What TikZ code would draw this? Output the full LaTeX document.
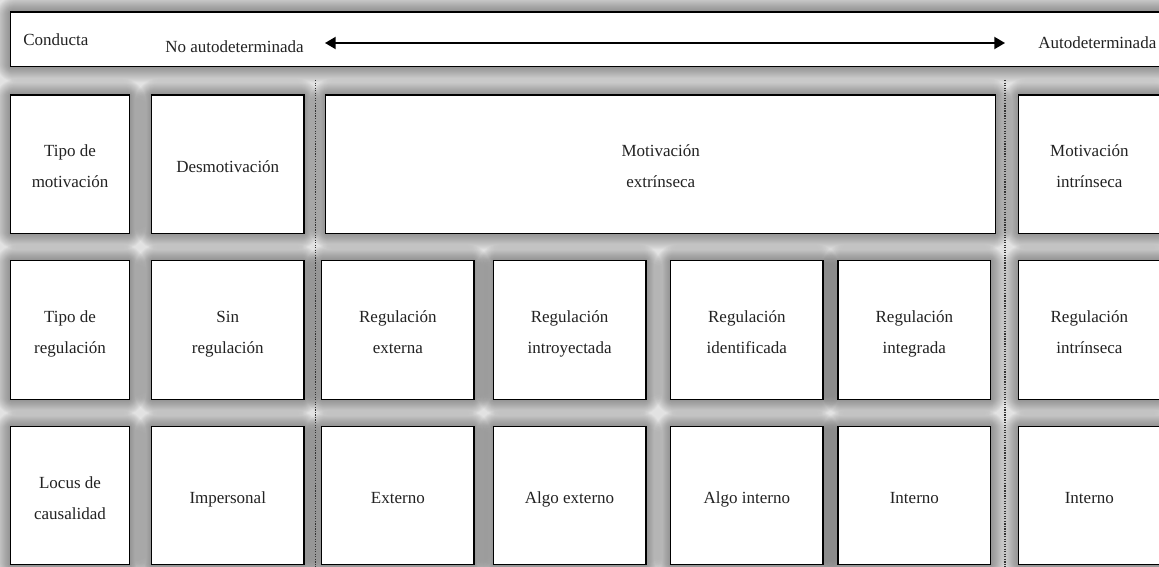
\documentclass[tikz,border=0pt]{standalone}
\usepackage{fontspec}
\setmainfont{Liberation Serif}
\usetikzlibrary{arrows.meta}
\pgfdeclarelayer{bg}
\pgfsetlayers{bg,main}
\definecolor{paper}{HTML}{E2E2E2}
\definecolor{ink}{HTML}{222222}
\tikzset{
  cell/.style={draw=black, line width=1.1pt, fill=white, inner sep=0pt,
    align=center, text=ink, font=\fontsize{12.75}{23.25}\selectfont},
  toptext/.style={inner sep=0pt, text=ink, font=\fontsize{12.75}{15}\selectfont},
  halo/.style={fill=black, opacity=0.022},
  divider/.style={black!80, line width=0.9pt, densely dotted},
  scalearrow/.style={line width=1.4pt,
    {Triangle[length=8pt,width=9pt]}-{Triangle[length=8pt,width=9pt]}}
}
% line strut: keeps every line the same height so texts sit alike
\newcommand\ls{\rule[-1.75pt]{0pt}{16pt}}
% \panel{name}{x1}{y1}{x2}{y2}{text}: white box with a soft dark halo
\newcommand\panel[6]{%
  \begin{pgfonlayer}{bg}
    \foreach \k in {1,...,16}{%
      \fill[halo, rounded corners=1.05*\k pt]
        ({#2-\k},{#3-\k}) rectangle ({#4+\k},{#5+\k});}
  \end{pgfonlayer}
  \pgfmathsetmacro\pw{(#4-#2)*0.75}%
  \pgfmathsetmacro\ph{(#5-#3)*0.75}%
  \node[cell, minimum width=\pw pt, minimum height=\ph pt] (#1)
    at ({(#2+#4)/2},{(#3+#5)/2}) {#6};
}
\begin{document}
\begin{tikzpicture}[x=0.75pt,y=-0.75pt]
  \useasboundingbox (0,0) rectangle (1159,567);
  \begin{pgfonlayer}{bg}
    \fill[paper] (0,0) rectangle (1159,567);
  \end{pgfonlayer}

  % dotted dividers
  \coordinate (d1t) at (315.7,80);  \coordinate (d1b) at (315.7,567);
  \coordinate (d2t) at (1005,80);   \coordinate (d2b) at (1005,567);
  \draw[divider] (d1t) -- (d1b);
  \draw[divider] (d2t) -- (d2b);

  % header strip
  \panel{top}{10.7}{12}{1175}{66.5}{}
  \node[toptext, anchor=west] (cond) at (23,40) {Conducta};
  \node[toptext] (noauto) at (234.5,47) {No autodeterminada};
  \node[toptext, anchor=west] (auto) at (1038,43) {Autodeterminada};
  \coordinate (aL) at (325,43);
  \coordinate (aR) at (1005,43);
  \draw[scalearrow] (aL) -- (aR);

  % row 1
  \panel{tmot}{10.5}{95}{129.5}{233.3}{Tipo de\ls\\motivación\ls}
  \panel{desm}{151.5}{95}{304}{233.3}{Desmotivación\ls}
  \panel{mext}{325.7}{95}{995.7}{233.3}{Motivación\ls\\extrínseca\ls}
  \panel{mint}{1018.7}{95}{1160}{233.3}{Motivación\ls\\intrínseca\ls}

  % row 2
  \panel{treg}{10.5}{260.7}{129.5}{399.3}{Tipo de\ls\\regulación\ls}
  \panel{sreg}{151.5}{260.7}{304}{399.3}{Sin\ls\\regulación\ls}
  \panel{rext}{321.7}{260.7}{474}{399.3}{Regulación\ls\\externa\ls}
  \panel{rint}{493.3}{260.7}{645.8}{399.3}{Regulación\ls\\introyectada\ls}
  \panel{rid}{670.7}{260.7}{823}{399.3}{Regulación\ls\\identificada\ls}
  \panel{rinteg}{838}{260.7}{990.7}{399.3}{Regulación\ls\\integrada\ls}
  \panel{rintr}{1018.7}{260.7}{1160}{399.3}{Regulación\ls\\intrínseca\ls}

  % row 3
  \panel{locus}{10.5}{426.7}{129.5}{564.5}{Locus de\ls\\causalidad\ls}
  \panel{imp}{151.5}{426.7}{304}{564.5}{Impersonal\ls}
  \panel{lext}{321.7}{426.7}{474}{564.5}{Externo\ls}
  \panel{lalgx}{493.3}{426.7}{645.8}{564.5}{Algo externo\ls}
  \panel{lalgi}{670.7}{426.7}{823}{564.5}{Algo interno\ls}
  \panel{lint}{838}{426.7}{990.7}{564.5}{Interno\ls}
  \panel{lintr}{1018.7}{426.7}{1160}{564.5}{Interno\ls}
\end{tikzpicture}
\end{document}
